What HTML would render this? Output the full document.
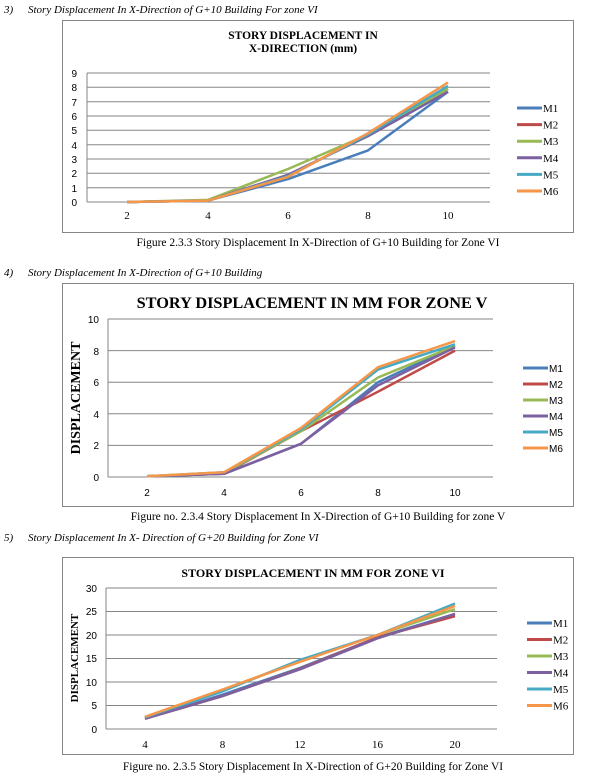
<!DOCTYPE html>
<html><head><meta charset="utf-8"><style>
html,body{margin:0;padding:0;background:#fff;width:614px;height:780px;overflow:hidden}
svg{display:block}
.h{font-family:"Liberation Serif",serif;font-style:italic;font-size:11px}
.cap{font-family:"Liberation Serif",serif;font-size:11.5px}
.t{font-family:"Liberation Serif",serif;font-weight:bold}
.s{font-family:"Liberation Sans",sans-serif;font-size:10px}
.r{font-family:"Liberation Serif",serif;font-size:11px}
</style></head><body>
<svg width="614" height="780" viewBox="0 0 614 780" xmlns="http://www.w3.org/2000/svg">
<text class="h" x="4" y="13">3)</text><text class="h" x="28" y="13">Story Displacement In X-Direction of G+10 Building For zone VI</text>
<text class="h" x="4" y="276">4)</text><text class="h" x="28" y="276">Story Displacement In X-Direction of G+10 Building</text>
<text class="h" x="4" y="541">5)</text><text class="h" x="28" y="541">Story Displacement In X- Direction of G+20 Building for Zone VI</text>

<!-- Chart 1 -->
<rect x="62.5" y="20.5" width="511" height="212" fill="#fff" stroke="#868686"/>
<text class="t" x="303" y="39" font-size="11.5" text-anchor="middle">STORY DISPLACEMENT IN</text>
<text class="t" x="303" y="52" font-size="11.5" text-anchor="middle">X-DIRECTION (mm)</text>
<g stroke="#868686" stroke-width="1">
<line x1="87" x2="490" y1="202" y2="202"/><line x1="87" x2="490" y1="187.7" y2="187.7"/><line x1="87" x2="490" y1="173.3" y2="173.3"/><line x1="87" x2="490" y1="159" y2="159"/><line x1="87" x2="490" y1="144.7" y2="144.7"/><line x1="87" x2="490" y1="130.3" y2="130.3"/><line x1="87" x2="490" y1="116" y2="116"/><line x1="87" x2="490" y1="101.7" y2="101.7"/><line x1="87" x2="490" y1="87.3" y2="87.3"/><line x1="87" x2="490" y1="73" y2="73"/>
<line x1="87" x2="87" y1="73" y2="202"/>
</g>
<g class="s" text-anchor="end">
<text x="77" y="206">0</text><text x="77" y="192">1</text><text x="77" y="177">2</text><text x="77" y="163">3</text><text x="77" y="149">4</text><text x="77" y="134">5</text><text x="77" y="120">6</text><text x="77" y="106">7</text><text x="77" y="91">8</text><text x="77" y="77">9</text>
</g>
<g class="r" text-anchor="middle"><text x="127" y="219">2</text><text x="208" y="219">4</text><text x="288" y="219">6</text><text x="368" y="219">8</text><text x="448" y="219">10</text></g>
<g fill="none" stroke-width="2.5" stroke-linejoin="round">
<polyline stroke="#4a7ebb" points="127,202 208,200.6 288,179.1 368,150.4 448,91.7"/>
<polyline stroke="#be4b48" points="127,202 208,200.6 288,176.2 368,134.6 448,88.8"/>
<polyline stroke="#98b954" points="127,202 208,199.9 288,169 368,134.6 448,88.8"/>
<polyline stroke="#7d60a0" points="127,202 208,200.6 288,174.8 368,136.1 448,91.7"/>
<polyline stroke="#46aac5" points="127,202 208,200.6 288,176.2 368,134.6 448,85.9"/>
<polyline stroke="#f59649" points="127,202 208,200.6 288,176.9 368,133.2 448,82.4"/>
</g>
<g stroke-width="3">
<line x1="517" x2="542" y1="108" y2="108" stroke="#4a7ebb"/><line x1="517" x2="542" y1="124.6" y2="124.6" stroke="#be4b48"/><line x1="517" x2="542" y1="141.2" y2="141.2" stroke="#98b954"/><line x1="517" x2="542" y1="157.8" y2="157.8" stroke="#7d60a0"/><line x1="517" x2="542" y1="174.4" y2="174.4" stroke="#46aac5"/><line x1="517" x2="542" y1="191" y2="191" stroke="#f59649"/>
</g>
<g class="r"><text x="543" y="112">M1</text><text x="543" y="128.6">M2</text><text x="543" y="145.2">M3</text><text x="543" y="161.8">M4</text><text x="543" y="178.4">M5</text><text x="543" y="195">M6</text></g>
<text class="cap" x="318" y="246" text-anchor="middle">Figure 2.3.3 Story Displacement In X-Direction of G+10 Building for Zone VI</text>

<!-- Chart 2 -->
<rect x="62.5" y="283.5" width="511" height="223" fill="#fff" stroke="#868686"/>
<text class="t" x="312" y="308" font-size="16.3" text-anchor="middle">STORY DISPLACEMENT IN MM FOR ZONE V</text>
<g stroke="#868686">
<line x1="108" x2="493" y1="477" y2="477"/><line x1="108" x2="493" y1="445.4" y2="445.4"/><line x1="108" x2="493" y1="413.8" y2="413.8"/><line x1="108" x2="493" y1="382.2" y2="382.2"/><line x1="108" x2="493" y1="350.6" y2="350.6"/><line x1="108" x2="493" y1="319" y2="319"/>
<line x1="108" x2="108" y1="319" y2="477"/>
</g>
<g class="s" text-anchor="end" font-size="11"><text x="99" y="481">0</text><text x="99" y="449">2</text><text x="99" y="418">4</text><text x="99" y="386">6</text><text x="99" y="355">8</text><text x="99" y="323">10</text></g>
<text class="t" font-size="14" transform="translate(80,398) rotate(-90)" text-anchor="middle">DISPLACEMENT</text>
<g class="s" text-anchor="middle" font-size="11"><text x="147" y="496">2</text><text x="224" y="496">4</text><text x="301" y="496">6</text><text x="378" y="496">8</text><text x="455" y="496">10</text></g>
<g fill="none" stroke-width="2.5" stroke-linejoin="round">
<polyline stroke="#4a7ebb" points="147,476.2 224,473.8 301,443.8 378,382.2 455,345.9"/>
<polyline stroke="#be4b48" points="147,476.2 224,473.8 301,431.2 378,391.7 455,350.6"/>
<polyline stroke="#98b954" points="147,476.2 224,473.1 301,431.2 378,377.5 455,345.9"/>
<polyline stroke="#7d60a0" points="147,476.2 224,473.8 301,443.8 378,385.4 455,347.4"/>
<polyline stroke="#46aac5" points="147,476.2 224,472.3 301,429.6 378,369.6 455,344.3"/>
<polyline stroke="#f59649" points="147,476.2 224,472.3 301,428 378,367.2 455,341.1"/>
</g>
<g stroke-width="3">
<line x1="523" x2="548" y1="368" y2="368" stroke="#4a7ebb"/><line x1="523" x2="548" y1="384" y2="384" stroke="#be4b48"/><line x1="523" x2="548" y1="400" y2="400" stroke="#98b954"/><line x1="523" x2="548" y1="416" y2="416" stroke="#7d60a0"/><line x1="523" x2="548" y1="432" y2="432" stroke="#46aac5"/><line x1="523" x2="548" y1="448" y2="448" stroke="#f59649"/>
</g>
<g class="s" font-size="11"><text x="549" y="372">M1</text><text x="549" y="388">M2</text><text x="549" y="404">M3</text><text x="549" y="420">M4</text><text x="549" y="436">M5</text><text x="549" y="452">M6</text></g>
<text class="cap" x="318" y="520" text-anchor="middle">Figure no. 2.3.4 Story Displacement In X-Direction of G+10 Building for zone V</text>

<!-- Chart 3 -->
<rect x="62.5" y="557.5" width="511" height="197" fill="#fff" stroke="#868686"/>
<text class="t" x="313" y="577" font-size="12" text-anchor="middle">STORY DISPLACEMENT IN MM FOR ZONE VI</text>
<g stroke="#868686">
<line x1="106" x2="497" y1="729" y2="729"/><line x1="106" x2="497" y1="705.5" y2="705.5"/><line x1="106" x2="497" y1="682" y2="682"/><line x1="106" x2="497" y1="658.5" y2="658.5"/><line x1="106" x2="497" y1="635" y2="635"/><line x1="106" x2="497" y1="611.5" y2="611.5"/><line x1="106" x2="497" y1="588" y2="588"/>
<line x1="106" x2="106" y1="588" y2="729"/>
</g>
<g class="s" text-anchor="end" font-size="11"><text x="97" y="733">0</text><text x="97" y="709">5</text><text x="97" y="686">10</text><text x="97" y="662">15</text><text x="97" y="639">20</text><text x="97" y="615">25</text><text x="97" y="592">30</text></g>
<text class="t" font-size="11" transform="translate(78,658) rotate(-90)" text-anchor="middle">DISPLACEMENT</text>
<g class="r" text-anchor="middle"><text x="145" y="748">4</text><text x="222.5" y="748">8</text><text x="300" y="748">12</text><text x="377.5" y="748">16</text><text x="455" y="748">20</text></g>
<g fill="none" stroke-width="2.5" stroke-linejoin="round">
<polyline stroke="#4a7ebb" points="145,718.7 222.5,694.7 300,667.9 377.5,637.4 455,613.9"/>
<polyline stroke="#be4b48" points="145,718.7 222.5,696.1 300,668.8 377.5,637.4 455,616.2"/>
<polyline stroke="#98b954" points="145,717.3 222.5,690 300,660.9 377.5,635 455,609.2"/>
<polyline stroke="#7d60a0" points="145,718.7 222.5,696.1 300,669.3 377.5,638.3 455,613.9"/>
<polyline stroke="#46aac5" points="145,717.3 222.5,691.4 300,659.9 377.5,635 455,603.5"/>
<polyline stroke="#f59649" points="145,716.8 222.5,689.5 300,661.8 377.5,635 455,605.9"/>
</g>
<g stroke-width="3">
<line x1="527" x2="552" y1="623" y2="623" stroke="#4a7ebb"/><line x1="527" x2="552" y1="639.5" y2="639.5" stroke="#be4b48"/><line x1="527" x2="552" y1="656" y2="656" stroke="#98b954"/><line x1="527" x2="552" y1="672.5" y2="672.5" stroke="#7d60a0"/><line x1="527" x2="552" y1="689" y2="689" stroke="#46aac5"/><line x1="527" x2="552" y1="705.5" y2="705.5" stroke="#f59649"/>
</g>
<g class="r"><text x="553" y="627">M1</text><text x="553" y="643.5">M2</text><text x="553" y="660">M3</text><text x="553" y="676.5">M4</text><text x="553" y="693">M5</text><text x="553" y="709.5">M6</text></g>
<text class="cap" x="313" y="770" text-anchor="middle">Figure no. 2.3.5 Story Displacement In X-Direction of G+20 Building for Zone VI</text>
</svg>
</body></html>
